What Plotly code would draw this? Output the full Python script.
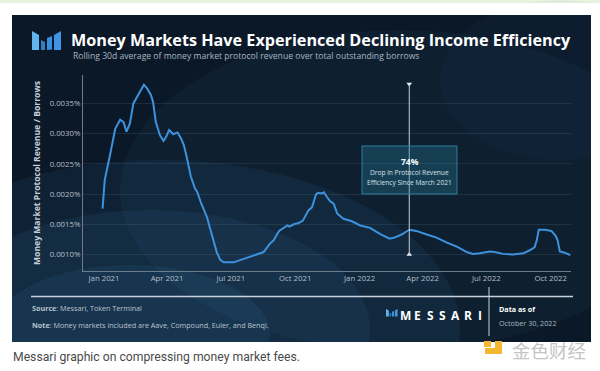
import plotly.graph_objects as go

# ---------------- data ----------------
dates = [
    "2020-12-30", "2021-01-02", "2021-01-10", "2021-01-17", "2021-01-24", "2021-01-29",
    "2021-02-02", "2021-02-07", "2021-02-12", "2021-02-19", "2021-02-27", "2021-03-04",
    "2021-03-09", "2021-03-12", "2021-03-16", "2021-03-22", "2021-03-27", "2021-03-31",
    "2021-04-04", "2021-04-10", "2021-04-16", "2021-04-21", "2021-04-25", "2021-04-29",
    "2021-05-05", "2021-05-11", "2021-05-14", "2021-05-20", "2021-05-28", "2021-06-01",
    "2021-06-06", "2021-06-11", "2021-06-16", "2021-06-21", "2021-07-05", "2021-07-14",
    "2021-07-28", "2021-08-07", "2021-08-17", "2021-08-26", "2021-08-31", "2021-09-08",
    "2021-09-15", "2021-09-20", "2021-09-23", "2021-09-29", "2021-10-06", "2021-10-12",
    "2021-10-20", "2021-10-25", "2021-10-31", "2021-11-03", "2021-11-08", "2021-11-11",
    "2021-11-15", "2021-11-20", "2021-11-25", "2021-11-30", "2021-12-09", "2021-12-21",
    "2022-01-02", "2022-01-16", "2022-01-30", "2022-02-13", "2022-02-20", "2022-03-02",
    "2022-03-13", "2022-03-23", "2022-04-07", "2022-04-21", "2022-05-05", "2022-05-20",
    "2022-06-03", "2022-06-12", "2022-06-22", "2022-07-06", "2022-07-13", "2022-07-25",
    "2022-08-08", "2022-08-23", "2022-09-01", "2022-09-08", "2022-09-11", "2022-09-14",
    "2022-09-23", "2022-10-02", "2022-10-08", "2022-10-11", "2022-10-14", "2022-10-21",
    "2022-10-29",
]
ratio_pct = [
    0.00176, 0.00223, 0.00267, 0.00308, 0.00323, 0.00319,
    0.00303, 0.00317, 0.00350, 0.00364, 0.00381, 0.00374,
    0.00364, 0.00353, 0.00319, 0.00297, 0.00288, 0.00295,
    0.00306, 0.00299, 0.00302, 0.00292, 0.00281, 0.00262,
    0.00229, 0.00209, 0.00204, 0.00184, 0.00162, 0.00145,
    0.00123, 0.00104, 0.00091, 0.00087, 0.00087, 0.00091,
    0.00096, 0.00100, 0.00104, 0.00118, 0.00123, 0.00139,
    0.00144, 0.00148, 0.00146, 0.00150, 0.00152, 0.00156,
    0.00173, 0.00178, 0.00200, 0.00202, 0.00201, 0.00203,
    0.00196, 0.00188, 0.00184, 0.00168, 0.00159, 0.00155,
    0.00148, 0.00144, 0.00134, 0.00126, 0.00128, 0.00133,
    0.00141, 0.00139, 0.00133, 0.00128, 0.00120, 0.00113,
    0.00104, 0.00101, 0.00102, 0.00105, 0.00104, 0.00101,
    0.00100, 0.00102, 0.00107, 0.00112, 0.00123, 0.00141,
    0.00141, 0.00139, 0.00131, 0.00123, 0.00105, 0.00103,
    0.00099,
]
y_ticks = [0.0010, 0.0015, 0.0020, 0.0025, 0.0030, 0.0035]
x_ticks = ["2021-01-01", "2021-04-01", "2021-07-01", "2021-10-01",
           "2022-01-01", "2022-04-01", "2022-07-01", "2022-10-01"]
x_tick_labels = ["Jan 2021", "Apr 2021", "Jul 2021", "Oct 2021",
                 "Jan 2022", "Apr 2022", "Jul 2022", "Oct 2022"]

marker_date = "2022-03-13"
marker_top = 0.00382
marker_bottom = 0.00100

TITLE = "Money Markets Have Experienced Declining Income Efficiency"
SUBTITLE = "Rolling 30d average of money market protocol revenue over total outstanding borrows"
Y_TITLE = "Money Market Protocol Revenue / Borrows"
BRAND = "MESSARI"

W, H = 600, 371
FONT = "Open Sans"


def px(x):
    return x / W


def py(y):
    return 1 - y / H


fig = go.Figure()

fig.add_trace(go.Scatter(
    x=dates, y=ratio_pct, mode="lines",
    line=dict(color="#3d92de", width=2),
    hoverinfo="skip", showlegend=False,
))

# marker tips on the vertical reference line
fig.add_trace(go.Scatter(
    x=[marker_date], y=[marker_top], mode="markers",
    marker=dict(symbol="triangle-down", size=5, color="#e8eef4"),
    showlegend=False, hoverinfo="skip",
))
fig.add_trace(go.Scatter(
    x=[marker_date], y=[marker_bottom], mode="markers",
    marker=dict(symbol="triangle-up", size=5, color="#e8eef4"),
    showlegend=False, hoverinfo="skip",
))

shapes = []
# top green strip and dark panel
shapes.append(dict(type="rect", xref="paper", yref="paper", x0=0, x1=1, y0=py(3), y1=1,
                   fillcolor="#e8f3df", line=dict(width=0), layer="below"))
shapes.append(dict(type="rect", xref="paper", yref="paper", x0=px(12), x1=px(591),
                   y0=py(342), y1=py(15), fillcolor="#0b1827", line=dict(width=0), layer="below"))
# soft blue glows
for (cx, cy, rx, ry, a) in [(160, 330, 300, 170, 0.10), (150, 330, 220, 120, 0.11),
                            (130, 335, 140, 70, 0.12), (400, 190, 280, 160, 0.07),
                            (560, 80, 120, 80, 0.05)]:
    shapes.append(dict(type="circle", xref="paper", yref="paper",
                       x0=px(cx - rx), x1=px(cx + rx), y0=py(cy + ry), y1=py(cy - ry),
                       fillcolor=f"rgba(60,125,175,{a})", line=dict(width=0), layer="below"))
# re-cover outside panel (glows may leak)
shapes.append(dict(type="rect", xref="paper", yref="paper", x0=0, x1=1, y0=0, y1=py(342),
                   fillcolor="white", line=dict(width=0), layer="below"))
shapes.append(dict(type="rect", xref="paper", yref="paper", x0=0, x1=px(12), y0=0, y1=py(3),
                   fillcolor="white", line=dict(width=0), layer="below"))
shapes.append(dict(type="rect", xref="paper", yref="paper", x0=px(591), x1=1, y0=0, y1=py(3),
                   fillcolor="white", line=dict(width=0), layer="below"))
shapes.append(dict(type="rect", xref="paper", yref="paper", x0=px(12), x1=px(591), y0=py(15), y1=py(3),
                   fillcolor="white", line=dict(width=0), layer="below"))


def logo(x0, y0, s, shapes):
    # Messari-like mark made of four slanted bars, x0,y0 top-left, s scale
    bars = [
        ([(0, 0), (7, 4), (7, 19), (0, 19)], "#62b4ee"),
        ([(9, 9), (13, 11), (13, 19), (9, 19)], "#2f7fc6"),
        ([(15, 7), (20, 5), (20, 18.5), (15, 19)], "#3a8edb"),
        ([(22, 4), (29, 0), (29, 19), (22, 19)], "#3f95e4"),
    ]
    for pts, col in bars:
        path = "M " + " L ".join(f"{px(x0 + s * a)},{py(y0 + s * b)}" for a, b in pts) + " Z"
        shapes.append(dict(type="path", xref="paper", yref="paper", path=path,
                           fillcolor=col, line=dict(width=0)))


logo(32, 31, 1.0, shapes)
logo(386, 309, 0.4, shapes)

# vertical reference line
shapes.append(dict(type="line", xref="x", yref="y", x0=marker_date, x1=marker_date,
                   y0=marker_bottom, y1=marker_top, line=dict(color="#c8d2dc", width=1)))
# annotation box
shapes.append(dict(type="rect", xref="paper", yref="paper", x0=px(362), x1=px(457),
                   y0=py(194), y1=py(146), fillcolor="rgba(40,115,145,0.38)",
                   line=dict(color="#2e7f9c", width=1)))
# footer rules
shapes.append(dict(type="line", xref="paper", yref="paper", x0=px(31), x1=px(573),
                   y0=py(296.5), y1=py(296.5), line=dict(color="#c9d2dc", width=1.5)))
shapes.append(dict(type="line", xref="paper", yref="paper", x0=px(489), x1=px(489),
                   y0=py(336), y1=py(287), line=dict(color="#c9d2dc", width=1)))
# watermark icon
shapes.append(dict(type="path", xref="paper", yref="paper",
                   path=(f"M {px(495)},{py(341)} L {px(502)},{py(341)} L {px(502)},{py(354)} "
                         f"L {px(485)},{py(354)} L {px(485)},{py(348)} L {px(495)},{py(348)} Z"),
                   fillcolor="#f4b731", line=dict(width=0)))
shapes.append(dict(type="rect", xref="paper", yref="paper", x0=px(484), x1=px(491),
                   y0=py(347), y1=py(341), fillcolor="#f4b731", line=dict(width=0)))

ann = []


def text(x, y, s, size, color, anchor="left", bold=False, family=FONT):
    ann.append(dict(xref="paper", yref="paper", x=px(x), y=py(y), text=(f"<b>{s}</b>" if bold else s),
                    showarrow=False, xanchor=anchor, yanchor="middle",
                    font=dict(family=family, size=size, color=color)))


text(69, 39.5, TITLE, 16.2, "#ffffff", bold=True)
text(71, 56, SUBTITLE, 8.6, "#a9b5c1")
ann.append(dict(xref="paper", yref="paper", x=px(37), y=py(173), text=f"<b>{Y_TITLE}</b>",
                textangle=-90, showarrow=False, xanchor="center", yanchor="middle",
                font=dict(family=FONT, size=8.6, color="#c6ced6")))
text(409.5, 161.5, "74%", 8.5, "#ffffff", anchor="center", bold=True)
text(409.5, 172.5, "Drop in Protocol Revenue", 6.6, "#d6e0e8", anchor="center")
text(409.5, 182, "Efficiency Since March 2021", 6.6, "#d6e0e8", anchor="center")
text(30, 308, "<b>Source</b>: Messari, Token Terminal", 7.2, "#b9c3cd")
text(30, 324.5, "<b>Note</b>: Money markets included are Aave, Compound, Euler, and Benqi.", 7.2, "#b9c3cd")
for i, ch in enumerate(BRAND):
    text(405 + 12.5 * i, 315, ch, 12, "#ffffff", anchor="center", bold=True)
text(497, 309, "Data as of", 7.2, "#ffffff", bold=True)
text(497, 323, "October 30, 2022", 7.2, "#aab6c2")
text(11, 356.5, "Messari graphic on compressing money market fees.", 12.2, "#4a4a4a", family="Roboto")
text(510, 350, "金色财经", 18.5, "#c4c4c4", family="Noto Sans CJK SC")

fig.update_layout(
    width=W, height=H,
    margin=dict(l=0, r=0, t=0, b=0),
    paper_bgcolor="white", plot_bgcolor="rgba(0,0,0,0)",
    shapes=shapes, annotations=ann,
    xaxis=dict(
        domain=[px(83), px(571)], range=["2020-12-02", "2022-10-30"], type="date",
        tickvals=x_ticks, ticktext=x_tick_labels,
        tickfont=dict(family=FONT, size=7.8, color="#b5bfc9"),
        showgrid=False, zeroline=False, showline=True, linecolor="#6d7c8a", linewidth=1,
        ticks="", ticklen=0,
    ),
    yaxis=dict(
        domain=[py(270.5), py(75)], range=[0.000735, 0.00397],
        tickvals=y_ticks, ticktext=[f"{v:.4f}%" for v in y_ticks],
        tickfont=dict(family=FONT, size=7.8, color="#b5bfc9"),
        showgrid=True, gridcolor="rgba(120,150,175,0.16)", gridwidth=1,
        zeroline=False, showline=True, linecolor="#6d7c8a", linewidth=1, ticks="", ticklen=0,
    ),
    showlegend=False,
)

fig.write_html("out.html", config={"displayModeBar": False},
               post_script="document.body.style.margin='0';document.body.style.overflow='hidden';")
